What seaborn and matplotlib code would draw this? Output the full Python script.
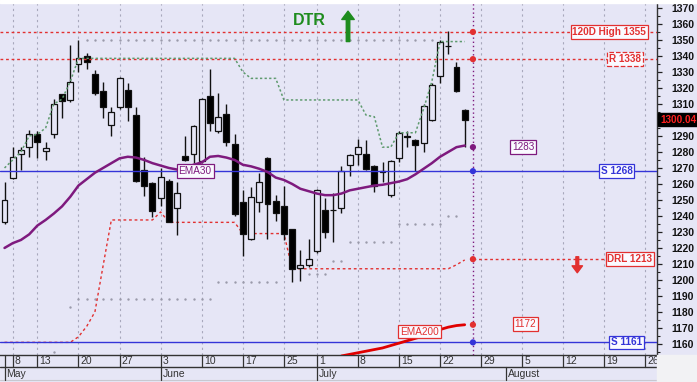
import numpy as np
import pandas as pd
import matplotlib
matplotlib.use('Agg')
import matplotlib.pyplot as plt
import matplotlib.transforms as mtransforms
from matplotlib.ticker import MultipleLocator
import seaborn as sns

# ---- data (day index 0 = May 8) ----
day = np.arange(-1, 56)
opens = [1236, 1264, 1279, 1283, 1291, 1280.5, 1291, 1316, 1312.5, 1335,
         1340, 1328.5, 1318, 1297, 1308, 1319, 1303, 1269, 1260.5, 1251,
         1262, 1245, 1277.7, 1279, 1274.6, 1315, 1293, 1304, 1285, 1249,
         1225.6, 1249, 1276.5, 1249.6, 1246, 1232, 1207.5, 1209.5, 1218, 1244,
         1244, 1245, 1272, 1278.5, 1279, 1271.5, 1268, 1253, 1276.5, 1290,
         1287.5, 1285.5, 1300, 1327.7, 1346.5, 1333, 1306.5]
highs = [1261, 1283, 1283, 1294, 1293, 1286.5, 1313, 1316, 1347, 1350,
         1342, 1331, 1324, 1308, 1327, 1323, 1308, 1277, 1261, 1270,
         1263, 1261.5, 1290, 1297, 1314, 1332, 1317, 1310, 1291, 1256,
         1258, 1267, 1277, 1253, 1259, 1232, 1219, 1225.6, 1257, 1251,
         1254.6, 1271, 1279, 1288, 1287.5, 1272, 1273.5, 1275, 1293, 1293,
         1288, 1310, 1323, 1350, 1355.5, 1336, 1307]
lows = [1235, 1263, 1269, 1277, 1276, 1275, 1289, 1301, 1311, 1330,
        1332, 1315.5, 1301.5, 1290, 1307, 1299.5, 1261, 1252.5, 1239.5, 1246,
        1236, 1228, 1274.5, 1273, 1273, 1293, 1292, 1284, 1240, 1215,
        1225, 1242.7, 1225.5, 1237, 1225, 1199, 1199.5, 1208, 1217, 1226,
        1224, 1242, 1265, 1272, 1269, 1255, 1261, 1252, 1274, 1283,
        1268, 1280, 1299.5, 1323, 1341, 1317.5, 1283]
closes = [1250, 1277, 1281, 1291, 1286, 1282.5, 1310, 1312, 1324, 1338.5,
          1336.5, 1317, 1308, 1305, 1326, 1308, 1262, 1259, 1243, 1264.5,
          1236, 1254.5, 1275, 1296.5, 1313, 1298, 1302, 1286.5, 1241, 1229,
          1252, 1261.5, 1247.5, 1241.7, 1229, 1207, 1209.5, 1213, 1256, 1230,
          1243.5, 1268, 1278, 1283, 1269.5, 1259, 1267.5, 1274.5, 1292, 1289.5,
          1284.5, 1309, 1322, 1349, 1346, 1318, 1300.04]

ema30 = [1220, 1223, 1225, 1228.5, 1234, 1237.5, 1241.5, 1246, 1252, 1259,
         1263, 1267, 1270, 1273, 1276, 1277, 1276.5, 1275, 1273, 1271.5,
         1270, 1269, 1270, 1272, 1273.5, 1277, 1277.5, 1276.5, 1275, 1272,
         1271, 1269.5, 1267.5, 1264, 1262.5, 1260, 1257, 1255.5, 1254, 1253,
         1253, 1254, 1256, 1257, 1258, 1259, 1259.5, 1260.5, 1261.5, 1263,
         1266, 1269.5, 1273, 1277, 1280, 1283, 1284]

ema200_day = np.arange(40, 56)
ema200 = [1152.5, 1153.5, 1154.5, 1155.5, 1156.5, 1157.5, 1159, 1160.5,
          1162, 1163.5, 1165, 1167, 1169, 1170.5, 1171.5, 1172]

dtr_line = [1270, 1275, 1280, 1290, 1291, 1295, 1310, 1313, 1324, 1338.5,
            1338.5, 1338.5, 1338.5, 1338.5, 1338.5, 1338.5, 1338.5, 1338.5, 1338.5, 1338.5,
            1338.5, 1338.5, 1338.5, 1338.5, 1338.5, 1338.5, 1338.5, 1338.5, 1338.5, 1330,
            1326, 1326, 1326, 1326, 1312.5, 1312.5, 1312.5, 1312.5, 1312.5, 1312.5,
            1312.5, 1312.5, 1312.5, 1312.5, 1303, 1302, 1283, 1283, 1292, 1292,
            1292, 1307, 1324, 1349, 1349, 1349, 1349]

drl_line = [1161, 1161, 1161, 1161, 1161, 1161, 1161, 1161, 1161, 1164.5,
            1171, 1180, 1209, 1237.5, 1237.5, 1237.5, 1237.5, 1237.5, 1237.5, 1242.5,
            1236, 1236, 1236, 1236, 1236, 1236, 1236, 1236, 1236, 1229,
            1229, 1229, 1229, 1229, 1229, 1207, 1207, 1207, 1207, 1207,
            1207, 1207, 1207, 1207, 1207, 1207, 1207, 1207, 1207, 1207,
            1207, 1207, 1207, 1207, 1207, 1209.5, 1212.5]

# faint idle bands (grey dots): start day, end day, level
upper_idle = (9, 51, 1350)
lower_start = [5, 7, 8, 25, 36, 39, 41, 47, 53]
lower_end = [5, 7, 24, 32, 38, 40, 46, 52, 54]
lower_level = [1155, 1183, 1188, 1199, 1204, 1212, 1224, 1235, 1240]

high120 = 1355
resist = 1338
support_hi = 1268
support_lo = 1161
drl_level = 1213
ema30_last = 1283
ema200_last = 1172
last_close = 1300.04

price_ticks = np.arange(1160, 1371, 10)

tick_pos = [0, 3, 8, 13, 18, 23, 28, 33, 37, 42, 47, 52, 57, 62, 67, 72, 77]
tick_labels = ['8', '13', '20', '27', '3', '10', '17', '25', '1', '8', '15',
               '22', '29', '5', '12', '19', '26']
month_pos = [-1, 18, 37, 60]
month_labels = ['May', 'June', 'July', 'August']

# ---- style ----
BG = '#E6E6F6'
RED = '#E23030'
BLUE = '#3434D8'
PURPLE = '#7E1A7E'
GREEN = '#1E8C1E'

sns.set_theme(style='white', rc={'axes.facecolor': BG, 'figure.facecolor': BG})
plt.rcParams['font.family'] = ['Liberation Sans', 'DejaVu Sans']

fig = plt.figure(figsize=(6.97, 3.82), dpi=100)
ax = fig.add_axes([0, 27 / 382, 657 / 697, 352 / 382])
ax.set_xlim(-1.55, 78.4)
ax.set_ylim(1153.1, 1373.1)

# light areas outside the chart
fig.patches.append(plt.Rectangle((0, 379 / 382), 1, 3 / 382, transform=fig.transFigure,
                                 color='white', zorder=0))
fig.patches.append(plt.Rectangle((657 / 697, 0), 40 / 697, 27 / 382, transform=fig.transFigure,
                                 color='#F2F2F4', zorder=0))

# vertical grid at week ticks
for p in tick_pos:
    ax.axvline(p, color='#A8A8BC', lw=0.8, ls=(0, (2, 3)), zorder=1)

# faint idle dots
up_days = np.arange(upper_idle[0], upper_idle[1] + 1)
sns.scatterplot(x=up_days, y=[upper_idle[2]] * len(up_days), ax=ax, s=3,
                color='#9A9AAA', linewidth=0, zorder=2)
lx, ly = [], []
for s, e, lv in zip(lower_start, lower_end, lower_level):
    for d in range(s, e + 1):
        lx.append(d)
        ly.append(lv)
sns.scatterplot(x=lx, y=ly, ax=ax, s=3, color='#9A9AAA', linewidth=0, zorder=2)

# trailing stop lines
sns.lineplot(x=day, y=drl_line, ax=ax, color=RED, lw=1, linestyle=(0, (2, 2)), zorder=2.5)
ax.hlines(drl_level, 56, 78.4, color=RED, lw=1, linestyle=(0, (2, 2)), zorder=2.5)

# candles
df = pd.DataFrame({'day': day, 'open': opens, 'high': highs, 'low': lows, 'close': closes})
rising = df['close'] >= df['open']
ax.vlines(df['day'], df['low'], df['high'], color='#111111', lw=1, zorder=3)
ax.bar(df['day'], (df['close'] - df['open']).abs().clip(lower=0.5),
       bottom=df[['open', 'close']].min(axis=1), width=0.72,
       color=np.where(rising, BG, '#000000'), edgecolor='#111111', linewidth=0.9, zorder=4)

# level lines
ax.axhline(high120, color=RED, lw=1, ls=(0, (2, 2)), zorder=5)
ax.axhline(resist, color=RED, lw=1, ls=(0, (2, 2)), zorder=5)
ax.axhline(support_hi, color=BLUE, lw=1, zorder=5)
ax.axhline(support_lo, color=BLUE, lw=1, zorder=5)

sns.lineplot(x=day, y=dtr_line, ax=ax, color='#5E9A6E', lw=1.1, linestyle=(0, (1.5, 1.5)), zorder=6)
sns.lineplot(x=day, y=ema30, ax=ax, color=PURPLE, lw=1.8, zorder=6)
sns.lineplot(x=ema200_day, y=ema200, ax=ax, color='#E00000', lw=2, zorder=6)

# current-day marker column
ax.axvline(56, color=PURPLE, lw=1, ls=(0, (1, 2)), zorder=6)
ax.scatter([56] * 7, [high120, resist, ema30_last, support_hi, drl_level, ema200_last, support_lo],
           c=[RED, RED, PURPLE, BLUE, RED, RED, BLUE], s=20, zorder=8, linewidths=0)

# labels on the chart
def tag(x, y, s, color, bold=True, ls='-'):
    ax.text(x, y, s, ha='center', va='center', fontsize=7.2, color=color,
            fontweight='bold' if bold else 'normal', zorder=9,
            bbox=dict(boxstyle='square,pad=0.18', fc='#FAFAFF', ec=color, lw=0.9, ls=ls))

tag(72.6, high120, '120D High 1355', RED)
tag(74.5, resist, 'R 1338', RED, ls='--')
tag(73.5, support_hi, 'S 1268', BLUE)
tag(74.7, support_lo, 'S 1161', BLUE)
tag(75.1, drl_level, 'DRL 1213', RED)
tag(62.1, ema30_last, '1283', PURPLE, bold=False)
tag(62.4, ema200_last + 0.5, '1172', RED, bold=False)
tag(22.2, support_hi, 'EMA30', PURPLE, bold=False)
tag(49.5, 1167.7, 'EMA200', RED, bold=False)

ax.text(36.1, 1362.2, 'DTR', ha='center', va='center', fontsize=11.5,
        fontweight='bold', color=GREEN, zorder=9)
ax.annotate('', xy=(40.8, 1368), xytext=(40.8, 1349),
            arrowprops=dict(facecolor=GREEN, edgecolor=GREEN, width=2.5,
                            headwidth=9, headlength=6), zorder=9)
ax.annotate('', xy=(68.7, 1204.5), xytext=(68.7, 1214.5),
            arrowprops=dict(facecolor=RED, edgecolor=RED, width=2,
                            headwidth=7.5, headlength=5), zorder=9)

# right price axis (the 1300 label sits under the last-price box)
ax.yaxis.tick_right()
ax.set_yticks(price_ticks)
ax.set_yticklabels(['' if v == 1300 else str(v) for v in price_ticks])
ax.yaxis.set_minor_locator(MultipleLocator(5))
ax.tick_params(axis='y', which='major', length=3.6, width=0.9, color='#222222',
               pad=7, labelsize=7.5, labelcolor='#111111')
ax.tick_params(axis='y', which='minor', length=2, width=0.8, color='#222222')
for t in ax.get_yticklabels():
    t.set_fontweight('bold')
ax.set_xticks([])
for side in ['top', 'left']:
    ax.spines[side].set_visible(False)
for side in ['bottom', 'right']:
    ax.spines[side].set_color('#333333')
    ax.spines[side].set_linewidth(1)

ty = mtransforms.blended_transform_factory(ax.transAxes, ax.transData)
ax.text(1.0045, last_close, '1300.04', transform=ty, ha='left', va='center',
        fontsize=7.2, fontweight='bold', color='#FF2020', zorder=10,
        bbox=dict(boxstyle='square,pad=0.15', fc='black', ec='black'))

# date rows under the chart
tx = mtransforms.blended_transform_factory(ax.transData, ax.transAxes)
def ay(py):
    return (355 - py) / 352

ax.plot([0, 1], [ay(367), ay(367)], transform=ax.transAxes, color='#333333', lw=1, clip_on=False)
ax.plot([0, 1], [ay(380), ay(380)], transform=ax.transAxes, color='#C8C8D0', lw=0.8, clip_on=False)
for p in [-1] + tick_pos:
    ax.plot([p, p], [ay(355), ay(367)], transform=tx, color='#333333', lw=0.9, clip_on=False)
for p, lab in zip(tick_pos, tick_labels):
    ax.text(p + 0.25, ay(361.5), lab, transform=tx, ha='left', va='center',
            fontsize=7.5, color='#333333')
for p, lab in zip(month_pos, month_labels):
    ax.plot([p, p], [ay(367), ay(380)], transform=tx, color='#333333', lw=0.9, clip_on=False)
    ax.text(p + 0.25, ay(374), lab, transform=tx, ha='left', va='center',
            fontsize=7.5, color='#333333')

fig.savefig('out.png', dpi=100, facecolor=fig.get_facecolor())
